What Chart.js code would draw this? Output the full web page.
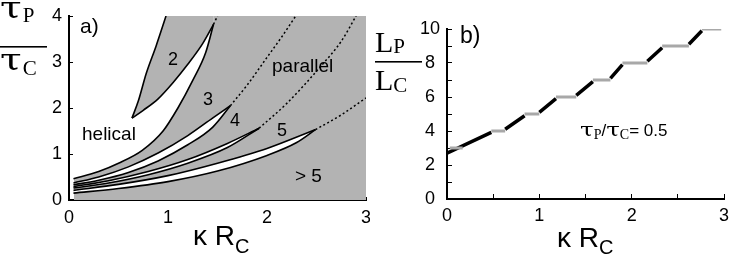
<!DOCTYPE html>
<html>
<head>
<meta charset="utf-8">
<script src="https://cdn.jsdelivr.net/npm/chart.js@4.4.1/dist/chart.umd.min.js"></script>
<style>
  html, body { margin: 0; padding: 0; background: #fff; }
  #wrap { position: relative; width: 732px; height: 266px; }
  #chartA { position: absolute; left: 0; top: 0; }
  #chartB { position: absolute; left: 370px; top: 0; }
</style>
</head>
<body>
<div id="wrap">
  <canvas id="chartA" width="370" height="266"></canvas>
  <canvas id="chartB" width="362" height="266"></canvas>
</div>
<script>
// panel a: region boundaries, pairs of [kappa*Rc, tauP/tauC]
const helixEdge = [[0.045, 0.46], [0.3, 0.62], [0.5, 0.8], [0.74, 1.08], [0.95, 1.5], [1.1, 2.0], [1.25, 2.6], [1.38, 3.2], [1.46, 3.82]];
const hornLeft = [[0.636, 1.78], [0.7, 2.15], [0.78, 2.75], [0.88, 3.35], [0.98, 4.0]];
const hornLower = [[0.636, 1.78], [0.75, 1.95], [0.9, 2.2], [1.05, 2.55], [1.2, 2.95], [1.35, 3.4], [1.46, 3.82]];
const lens4Upper = [[0.045, 0.37], [0.3, 0.5], [0.6, 0.72], [0.9, 1.02], [1.2, 1.4], [1.45, 1.78], [1.63, 2.05]];
const lens4Lower = [[0.045, 0.33], [0.3, 0.43], [0.6, 0.6], [0.9, 0.85], [1.2, 1.2], [1.45, 1.58], [1.63, 2.05]];
const lens5Upper = [[0.045, 0.29], [0.4, 0.42], [0.8, 0.62], [1.2, 0.88], [1.6, 1.23], [1.92, 1.56]];
const lens5Lower = [[0.045, 0.26], [0.4, 0.37], [0.8, 0.55], [1.2, 0.8], [1.6, 1.14], [1.92, 1.56]];
const lens6Upper = [[0.045, 0.21], [0.5, 0.34], [1.0, 0.53], [1.5, 0.8], [2.0, 1.12], [2.49, 1.53]];
const lens6Lower = [[0.045, 0.15], [0.5, 0.25], [1.0, 0.4], [1.5, 0.63], [2.0, 0.97], [2.3, 1.25], [2.49, 1.53]];
const dotted3 = [[1.46, 3.82], [1.5, 4.0]];
const dotted4 = [[1.63, 2.05], [1.8, 2.5], [2.0, 3.1], [2.15, 3.55], [2.29, 4.0]];
const dotted5 = [[1.92, 1.56], [2.2, 2.1], [2.54, 2.9], [2.75, 3.45], [2.9, 4.0]];
const dotted6 = [[2.49, 1.53], [2.75, 1.85], [3.0, 2.22]];
const parallelBox = [[0.05, 4.0], [3.0, 4.0]];

// panel b: Lp/Lc against kappa*Rc at tauP/tauC = 0.5
// black rising pieces
const riseFromK = [0.0, 0.63, 1.0, 1.4, 1.77, 2.17, 2.62];
const riseFromL = [2.7, 4.1, 5.1, 6.1, 7.1, 8.1, 9.1];
const riseToK = [0.48, 0.84, 1.18, 1.58, 1.9, 2.33, 2.76];
const riseToL = [3.92, 4.9, 5.9, 6.9, 7.9, 8.9, 9.9];
// grey plateaus at whole numbers
const stepLevels = [3, 4, 5, 6, 7, 8, 9, 10];
const stepFrom = [0.03, 0.48, 0.84, 1.18, 1.58, 1.9, 2.33, 2.76];
const stepTo = [0.17, 0.63, 1.0, 1.4, 1.77, 2.17, 2.62, 2.97];

const GRAY = "#b3b3b3";
const SANS = "'Liberation Sans', Arial, sans-serif";
const SERIF = "'Liberation Serif', 'Times New Roman', serif";
const TAU = "'DejaVu Serif', serif";

const pts = (arr) => arr.map(([x, y]) => ({ x, y }));

function edge(arr, extra) {
  return Object.assign({
    data: pts(arr),
    showLine: true,
    borderColor: "#000",
    borderWidth: 1.6,
    pointRadius: 0,
    fill: false,
    cubicInterpolationMode: "monotone",
  }, extra);
}

// draws pieces of text one after another (for subscripts)
function rich(ctx, x, y, parts) {
  for (const p of parts) {
    const sx = p.sx || 1;
    ctx.font = p.f;
    ctx.save();
    ctx.translate(x, y + (p.dy || 0));
    ctx.scale(sx, 1);
    ctx.fillText(p.t, 0, 0);
    ctx.restore();
    x += ctx.measureText(p.t).width * sx + (p.gap || 0);
  }
}

const isInt = (v) => Math.abs(v - Math.round(v)) < 1e-6;

function axisOpts(min, max, step, labelIf, tick, pad, size) {
  return {
    type: "linear",
    min: min,
    max: max,
    ticks: {
      stepSize: step,
      autoSkip: false,
      maxRotation: 0,
      color: "#000",
      font: { family: SANS, size: 18 },
      padding: pad,
      callback: (v) => (labelIf(v) ? String(Math.round(v)) : ""),
    },
    grid: { drawOnChartArea: false, tickLength: tick, color: "#000", lineWidth: 1 },
    border: { color: "#000", width: 2 },
    afterFit: size,
  };
}

// ---------- panel a ----------
const textA = {
  id: "textA",
  afterDraw(chart) {
    const ctx = chart.ctx;
    ctx.save();
    ctx.fillStyle = "#000";
    ctx.textBaseline = "alphabetic";
    ctx.textAlign = "left";
    rich(ctx, 0, 18, [{ t: "τ", f: "29px " + TAU, sx: 1.35, gap: 1 }, { t: "P", f: "21px " + SERIF, dy: 4 }]);
    ctx.fillRect(0, 46, 47, 1.6);
    rich(ctx, 0, 70, [{ t: "τ", f: "29px " + TAU, sx: 1.35, gap: 1 }, { t: "C", f: "21px " + SERIF, dy: 5 }]);
    rich(ctx, 193, 245, [{ t: "κ ", f: "28px " + SANS }, { t: "R", f: "28px " + SANS }, { t: "C", f: "20px " + SANS, dy: 8 }]);
    ctx.font = "21px " + SANS;
    ctx.fillText("a)", 80, 33);
    ctx.font = "18px " + SANS;
    ctx.fillText("2", 168, 65);
    ctx.fillText("3", 203, 105);
    ctx.fillText("4", 230, 126);
    ctx.fillText("5", 277, 136);
    ctx.font = "19px " + SANS;
    ctx.fillText("parallel", 272, 72);
    ctx.fillText("helical", 82, 140);
    ctx.fillText("> 5", 295, 182);
    ctx.restore();
  },
};

new Chart(document.getElementById("chartA"), {
  type: "scatter",
  data: {
    datasets: [
      edge(lens6Lower),
      edge(lens6Upper, { fill: 0, backgroundColor: "#fff" }),
      edge(lens5Lower),
      edge(lens5Upper, { fill: 2, backgroundColor: "#fff" }),
      edge(lens4Lower),
      edge(lens4Upper, { fill: 4, backgroundColor: "#fff" }),
      edge(dotted3, { borderDash: [2, 2.5], borderWidth: 1.5 }),
      edge(dotted4, { borderDash: [2, 2.5], borderWidth: 1.5 }),
      edge(dotted5, { borderDash: [2, 2.5], borderWidth: 1.5 }),
      edge(dotted6, { borderDash: [2, 2.5], borderWidth: 1.5 }),
      edge(hornLeft, { fill: "end", backgroundColor: "#fff" }),
      edge(hornLower, { fill: "end", backgroundColor: GRAY }),
      edge(helixEdge, { fill: "end", backgroundColor: "#fff" }),
      edge(parallelBox, { fill: "start", backgroundColor: GRAY, borderWidth: 0, borderColor: "rgba(0,0,0,0)" }),
    ],
  },
  options: {
    responsive: false,
    animation: false,
    layout: { padding: { left: 0, right: 4, top: 16, bottom: 0 } },
    plugins: { legend: { display: false }, tooltip: { enabled: false }, filler: { drawTime: "beforeDatasetsDraw" } },
    scales: {
      x: axisOpts(0, 3, 0.1, isInt, -3, 10, (s) => { s.height = 66; s.paddingLeft = 0; s.paddingRight = 0; }),
      y: axisOpts(0, 4, 1, () => true, -4, 11, (s) => { s.width = 69; s.paddingTop = 0; s.paddingBottom = 0; }),
    },
  },
  plugins: [textA],
});

// ---------- panel b ----------
const stepPts = [];
stepLevels.forEach((n, i) => {
  stepPts.push({ x: stepFrom[i], y: n }, { x: stepTo[i], y: n }, { x: stepTo[i], y: null });
});
const risePts = [];
riseFromK.forEach((k, i) => {
  risePts.push({ x: k, y: riseFromL[i] }, { x: riseToK[i], y: riseToL[i] }, { x: riseToK[i], y: null });
});

const textB = {
  id: "textB",
  afterDraw(chart) {
    const ctx = chart.ctx;
    ctx.save();
    ctx.fillStyle = "#000";
    ctx.textBaseline = "alphabetic";
    ctx.textAlign = "left";
    rich(ctx, 5, 52, [{ t: "L", f: "30px " + SERIF }, { t: "P", f: "21px " + SERIF, dy: 1 }]);
    ctx.fillRect(5, 61, 47, 1.6);
    rich(ctx, 5, 90, [{ t: "L", f: "30px " + SERIF }, { t: "C", f: "21px " + SERIF, dy: 2 }]);
    rich(ctx, 187, 247, [{ t: "κ ", f: "28px " + SANS }, { t: "R", f: "28px " + SANS }, { t: "C", f: "20px " + SANS, dy: 7 }]);
    ctx.font = "23px " + SANS;
    ctx.fillText("b)", 90, 43);
    rich(ctx, 210, 136, [
      { t: "τ", f: "19px " + TAU, sx: 1.3 },
      { t: "P", f: "14px " + SERIF, dy: 3 },
      { t: "/", f: "17px " + SANS },
      { t: "τ", f: "19px " + TAU, sx: 1.3 },
      { t: "C", f: "14px " + SERIF, dy: 3 },
      { t: "= 0.5", f: "17px " + SANS },
    ]);
    ctx.restore();
  },
};

const yB = axisOpts(0, 10, 1, (v) => Math.round(v) % 2 === 0, -5, 12, (s) => { s.width = 77; s.paddingTop = 0; s.paddingBottom = 0; });
yB.ticks.crossAlign = "center";

new Chart(document.getElementById("chartB"), {
  type: "scatter",
  data: {
    datasets: [
      {
        data: stepPts,
        showLine: true,
        borderColor: "#a8a8a8",
        borderWidth: 3,
        pointRadius: 0,
        spanGaps: false,
      },
      {
        data: risePts,
        showLine: true,
        borderColor: "#000",
        borderWidth: 3.5,
        pointRadius: 0,
        spanGaps: false,
      },
    ],
  },
  options: {
    responsive: false,
    animation: false,
    layout: { padding: { left: 0, right: 8, top: 29, bottom: 0 } },
    plugins: { legend: { display: false }, tooltip: { enabled: false } },
    scales: {
      x: axisOpts(0, 3, 0.5, isInt, -5, 11, (s) => { s.height = 67; s.paddingLeft = 0; s.paddingRight = 0; }),
      y: yB,
    },
  },
  plugins: [textB],
});
</script>
</body>
</html>
